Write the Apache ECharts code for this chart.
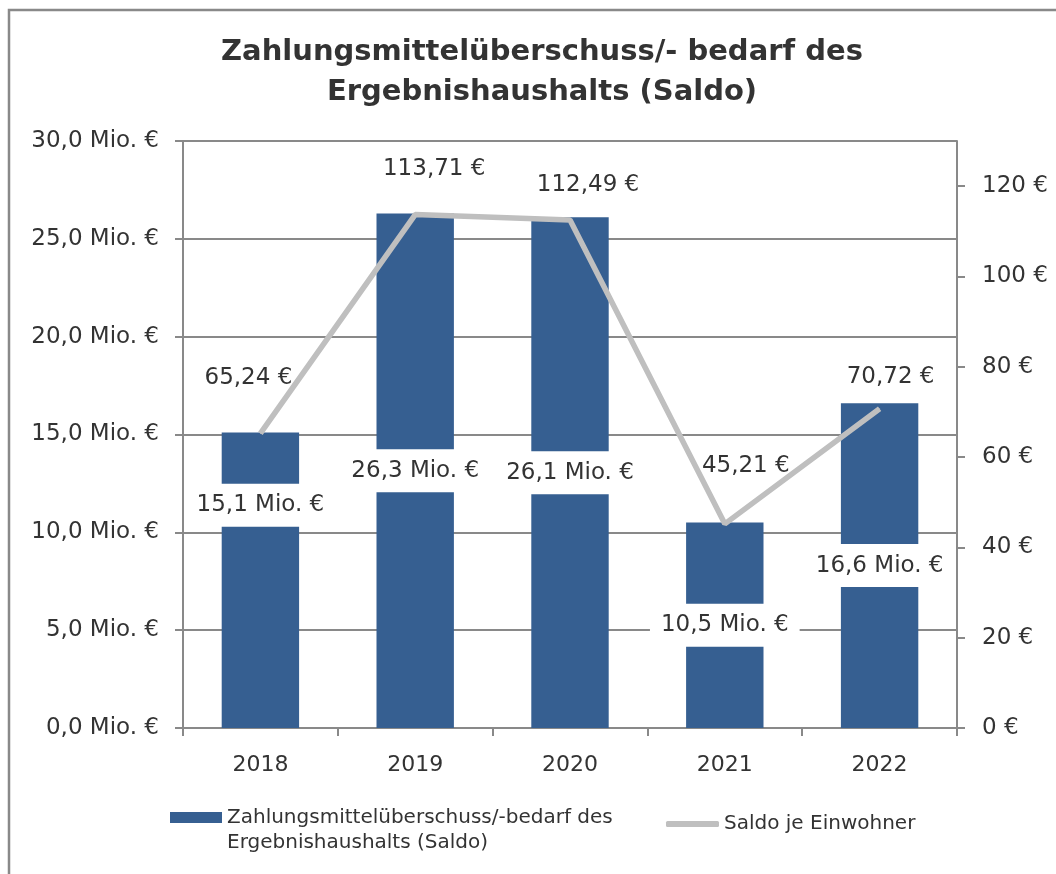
<!DOCTYPE html>
<html><head><meta charset="utf-8">
<script src="https://cdn.jsdelivr.net/npm/echarts@6/dist/echarts.min.js"></script>
<style>html,body{margin:0;padding:0;background:#fff}#c{width:1056px;height:874px}</style>
</head><body><div id="c"></div>
<script>
// ---- data ----
const categories = ['2018', '2019', '2020', '2021', '2022'];
const saldoMio = [15.1, 26.3, 26.1, 10.5, 16.6];
const saldoJeEinwohner = [65.24, 113.71, 112.49, 45.21, 70.72];
const leftTicks = [0, 5, 10, 15, 20, 25, 30];
const rightTicks = [0, 20, 40, 60, 80, 100, 120];
const barName = 'Zahlungsmittelüberschuss/-bedarf des\nErgebnishaushalts (Saldo)';
const lineName = 'Saldo je Einwohner';
const titleText = 'Zahlungsmittelüberschuss/- bedarf des\nErgebnishaushalts (Saldo)';

// ---- label placement (style) ----
const barLabelOffsets = [[0, -75], [0, 0], [0, 0], [0, 0], [0, 0]];
const lineLabelOffsets = [[-12, -55], [19, -46], [18, -35], [21, -58], [11, -32]];

const FONT = 'DejaVu Sans';
const GRAY = '#898989';
const TXT = '#333333';
const BAR = '#365F91';
const LINE = '#BFBFBF';

const fmt = (v, d) => v.toFixed(d).replace('.', ',');

const chart = echarts.init(document.getElementById('c'));
chart.setOption({
  animation: false,
  backgroundColor: '#ffffff',
  textStyle: { fontFamily: FONT },
  title: {
    text: titleText,
    left: 537, top: 27, textAlign: 'center',
    textStyle: { fontFamily: FONT, fontWeight: 'bold', fontSize: 29, lineHeight: 40, color: TXT }
  },
  graphic: [
    { type: 'polyline', shape: { points: [[9, 874], [9, 10], [1056, 10]] },
      style: { stroke: GRAY, lineWidth: 2.5, fill: null }, silent: true }
  ],
  legend: [
    {
      left: 170, top: 780, padding: 0,
      itemWidth: 52, itemHeight: 11,
      icon: 'rect',
      data: [barName],
      formatter: name => ' \n' + name,
      textStyle: { fontFamily: FONT, fontSize: 20, lineHeight: 25, color: TXT }
    },
    {
      left: 666, top: 814, padding: 0,
      itemWidth: 53, itemHeight: 6,
      icon: 'roundRect',
      data: [lineName],
      itemStyle: { color: LINE },
      textStyle: { fontFamily: FONT, fontSize: 20, color: TXT }
    }
  ],
  grid: { left: 183, right: 99, top: 141, bottom: 146, containLabel: false },
  xAxis: {
    type: 'category', data: categories, boundaryGap: true,
    axisLine: { lineStyle: { color: GRAY, width: 2 } },
    axisTick: { show: true, length: 8, lineStyle: { color: GRAY, width: 2 } },
    axisLabel: { fontFamily: FONT, fontSize: 22, color: TXT, margin: 26 }
  },
  yAxis: [
    {
      type: 'value', min: 0, max: 30, interval: 5,
      axisLine: { show: true, lineStyle: { color: GRAY, width: 2 } },
      axisTick: { show: true, length: 8, lineStyle: { color: GRAY, width: 2 } },
      splitLine: { show: true, lineStyle: { color: GRAY, width: 2 } },
      axisLabel: {
        fontFamily: FONT, fontSize: 23, color: TXT, margin: 24,
        customValues: leftTicks,
        formatter: v => fmt(v, 1) + ' Mio. €'
      }
    },
    {
      type: 'value', min: 0, max: 130, interval: 20, position: 'right',
      axisLine: { show: true, lineStyle: { color: GRAY, width: 2 } },
      axisTick: { show: true, length: 8, customValues: rightTicks, lineStyle: { color: GRAY, width: 2 } },
      splitLine: { show: false },
      axisLabel: {
        fontFamily: FONT, fontSize: 23, color: TXT, margin: 25,
        customValues: rightTicks,
        formatter: v => v + ' €'
      }
    }
  ],
  series: [
    {
      name: barName, type: 'bar', yAxisIndex: 0, barWidth: '50%',
      itemStyle: { color: BAR },
      data: saldoMio.map((v, i) => ({
        value: v,
        label: { offset: barLabelOffsets[i] }
      })),
      label: {
        show: true, position: 'inside',
        fontFamily: FONT, fontSize: 23, color: TXT,
        backgroundColor: '#ffffff', padding: [10, 11],
        formatter: p => fmt(p.value, 1) + ' Mio. €'
      },
      z: 2
    },
    {
      name: lineName, type: 'line', yAxisIndex: 1,
      symbol: 'circle', symbolSize: 1, showSymbol: true,
      lineStyle: { color: LINE, width: 5.5 },
      itemStyle: { color: LINE },
      data: saldoJeEinwohner.map((v, i) => ({
        value: v,
        label: { offset: lineLabelOffsets[i] }
      })),
      label: {
        show: true, position: 'inside',
        fontFamily: FONT, fontSize: 23, color: TXT,
        formatter: p => fmt(p.value, 2) + ' €'
      },
      z: 3
    }
  ]
});
</script></body></html>
